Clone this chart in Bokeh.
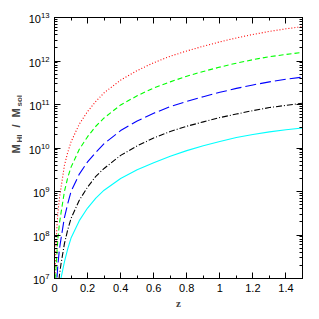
import math
from bokeh.plotting import figure
from bokeh.layouts import row
from bokeh.models import (FixedTicker, LinearAxis, LogAxis, Label, Range1d,
                          CustomJSTickFormatter)
from bokeh.embed import file_html
from bokeh.resources import INLINE

# ---- data ----
z = [0.002, 0.005, 0.01, 0.02, 0.03, 0.04, 0.06, 0.08, 0.1, 0.15, 0.2, 0.25,
     0.3, 0.4, 0.5, 0.6, 0.7, 0.8, 0.9, 1.0, 1.1, 1.2, 1.3, 1.4, 1.5]
log_red = [6.5, 7.3, 7.9, 8.5, 8.85, 9.1, 9.6, 9.9, 10.14, 10.55, 10.84, 11.07,
           11.27, 11.56, 11.78, 11.96, 12.11, 12.23, 12.34, 12.44, 12.53, 12.61,
           12.68, 12.74, 12.79]
log_green = [5.9, 6.7, 7.3, 7.9, 8.27, 8.52, 9.0, 9.32, 9.56, 9.97, 10.26, 10.5,
             10.69, 10.99, 11.2, 11.38, 11.52, 11.65, 11.76, 11.86, 11.95, 12.03,
             12.1, 12.15, 12.2]
log_blue = [5.3, 6.1, 6.7, 7.3, 7.68, 7.93, 8.4, 8.72, 9.0, 9.4, 9.68, 9.9,
            10.1, 10.4, 10.62, 10.8, 10.95, 11.07, 11.18, 11.28, 11.37, 11.45,
            11.52, 11.58, 11.63]
log_black = [4.7, 5.5, 6.1, 6.7, 7.08, 7.35, 7.8, 8.12, 8.38, 8.8, 9.1, 9.35,
             9.53, 9.83, 10.05, 10.23, 10.38, 10.5, 10.6, 10.7, 10.78, 10.86,
             10.93, 10.98, 11.03]
log_cyan = [4.1, 4.9, 5.5, 6.15, 6.55, 7.02, 7.38, 7.68, 7.93, 8.33, 8.62, 8.85,
            9.03, 9.3, 9.5, 9.66, 9.81, 9.94, 10.05, 10.15, 10.24, 10.31, 10.37,
            10.42, 10.46]

x_major = [0, 0.2, 0.4, 0.6, 0.8, 1.0, 1.2, 1.4]
x_minor = [0.1, 0.3, 0.5, 0.7, 0.9, 1.1, 1.3, 1.5]
decades = [7, 8, 9, 10, 11, 12, 13]

series = [
    (log_red, "red", "1 2"),
    (log_green, "#00ff00", "5 3"),
    (log_blue, "blue", "11 4"),
    (log_black, "black", "6 2 1 2"),
    (log_cyan, "cyan", "solid"),
]

FONT = "Liberation Sans"
H = 311
LW = 22  # width of the strip that holds the y-axis title

p = figure(width=311 - LW, height=H, y_axis_type="log",
           x_range=(0, 1.5), y_range=(1e7, 1e13),
           output_backend="svg", toolbar_location=None,
           min_border_left=54 - LW, min_border_right=9,
           min_border_top=17, min_border_bottom=26)
p.grid.visible = False
p.outline_line_color = "black"
p.outline_line_width = 1
p.background_fill_color = "white"

for vals, col, dash in series:
    p.line(z, [10 ** v for v in vals], line_color=col, line_width=1.1,
           line_dash=dash)

y_major = [10.0 ** d for d in decades]
y_minor = [m * 10.0 ** d for d in decades[:-1] for m in range(2, 10)]

fmt = CustomJSTickFormatter(code="return tick.toFixed(1).replace(/\\.0$/, '');")
blank = CustomJSTickFormatter(code="return '';")


def style(ax):
    ax.major_tick_in = 6
    ax.major_tick_out = 0
    ax.minor_tick_in = 3
    ax.minor_tick_out = 0
    ax.axis_line_color = "black"
    ax.major_tick_line_color = "black"
    ax.minor_tick_line_color = "black"
    ax.major_label_text_font = FONT
    ax.major_label_text_color = "black"
    ax.major_label_text_font_size = "11px"


xa = p.xaxis[0]
xa.ticker = FixedTicker(ticks=x_major, minor_ticks=x_minor)
xa.formatter = fmt
style(xa)
xa.major_label_standoff = 5
xa.axis_label = "z"
xa.axis_label_text_font = "Liberation Serif"
xa.axis_label_text_font_style = "bold"
xa.axis_label_text_font_size = "11px"
xa.axis_label_standoff = 2

ya = p.yaxis[0]
ya.ticker = FixedTicker(ticks=y_major, minor_ticks=y_minor)
style(ya)
ya.major_label_standoff = 5

top = LinearAxis(ticker=FixedTicker(ticks=x_major, minor_ticks=x_minor),
                 formatter=blank)
style(top)
top.major_label_standoff = 0
p.add_layout(top, "above")

right = LogAxis(ticker=FixedTicker(ticks=y_major, minor_ticks=y_minor),
                formatter=blank)
style(right)
right.major_label_standoff = 0
p.add_layout(right, "right")

# strip on the left carrying the y-axis title (with subscripts)
lab = figure(width=LW, height=H, x_range=Range1d(0, LW), y_range=Range1d(0, H),
             output_backend="svg", toolbar_location=None,
             min_border=0, min_border_left=0, min_border_right=0,
             min_border_top=0, min_border_bottom=0)
lab.axis.visible = False
lab.grid.visible = False
lab.outline_line_color = None
lab.background_fill_color = "white"

pieces = [
    ("M", 0, 0, "11px"),
    ("HI", 11, 3.5, "8px"),
    ("/", 26, 0, "11px"),
    ("M", 36, 0, "11px"),
    ("sol", 47, 3.5, "8px"),
]
for txt, dy, dx, fs in pieces:
    lab.add_layout(Label(x=15 + dx, y=H - 186 + dy,
                         x_units="screen", y_units="screen",
                         text=txt, angle=math.pi / 2,
                         text_font=FONT, text_font_style="bold",
                         text_font_size=fs, text_align="left",
                         text_baseline="middle"))

layout = row(lab, p, spacing=0)
open("out.html", "w").write(file_html(layout, INLINE))
